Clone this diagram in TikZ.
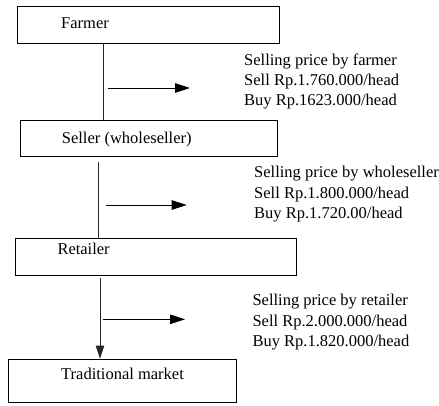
\documentclass[tikz,border=0pt]{standalone}
\usepackage{fontspec}
\setmainfont{Liberation Serif}
\usetikzlibrary{arrows.meta}
\begin{document}
\begin{tikzpicture}[x=1pt,y=-1pt,
  font=\fontsize{16.5}{20.3}\selectfont,
  box/.style={draw, line width=0.9pt, inner sep=0pt, rectangle},
  lbl/.style={anchor=base west, inner sep=0pt},
  price/.style={anchor=base west, inner sep=0pt, align=left},
  conn/.style={line width=0.9pt, draw=black!85},
  harrow/.style={line width=0.9pt, -{Triangle[length=15pt,width=9.5pt]}},
  varrow/.style={line width=0.9pt, draw=black!85, -{Triangle[length=13pt,width=8.5pt]}}]
\useasboundingbox (0,0) rectangle (439,405);
% boxes
\node[box, minimum width=262pt, minimum height=37.3pt] (fb) at (148.3,24.65) {};
\node[box, minimum width=257.3pt, minimum height=36.7pt] (sb) at (148.65,138.35) {};
\node[box, minimum width=280.3pt, minimum height=37.4pt] (rb) at (155.85,257) {};
\node[box, minimum width=228.4pt, minimum height=43.7pt] (tb) at (122.5,380.85) {};
% box texts
\node[lbl] (ft) at (61,28.3) {Farmer};
\node[lbl] (st) at (61.7,143.5) {Seller (wholeseller)};
\node[lbl] (rt) at (57.3,254.5) {Retailer};
\node[lbl] (tt) at (61,379) {Traditional market};
% price texts (base anchor = last line baseline)
\node[price] (p1) at (244,105.8) {Selling price by farmer\\Sell Rp.1.760.000/head\\Buy Rp.1623.000/head};
\node[price] (p2) at (254,218.3) {Selling price by wholeseller\\Sell Rp.1.800.000/head\\Buy Rp.1.720.00/head};
\node[price] (p3) at (252.3,346.3) {Selling price by retailer\\Sell Rp.2.000.000/head\\Buy Rp.1.820.000/head};
% vertical connectors
\coordinate (x1) at (103.3,0);
\coordinate (l2top) at (98.3,161.7);
\coordinate (l3top) at (100,278);
\draw[conn] (fb.south -| x1) -- (sb.north -| x1);
\draw[conn] (l2top) -- (l2top |- rb.north);
\draw[varrow] (l3top) -- (l3top |- tb.north);
% horizontal arrows
\coordinate (a1s) at (108,88);
\coordinate (a1e) at (190,88);
\coordinate (a2s) at (105.7,205);
\coordinate (a2e) at (186.7,205);
\coordinate (a3s) at (103,319.3);
\coordinate (a3e) at (185,319.3);
\draw[harrow] (a1s) -- (a1e);
\draw[harrow] (a2s) -- (a2e);
\draw[harrow] (a3s) -- (a3e);
\end{tikzpicture}
\end{document}
